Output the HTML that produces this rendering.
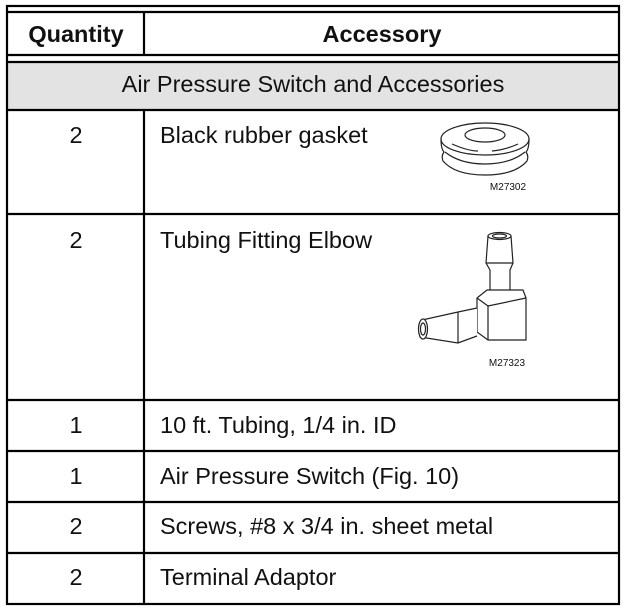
<!DOCTYPE html>
<html><head><style>
html,body{margin:0;padding:0;background:#fff;}
svg{display:block;}
text{font-family:"Liberation Sans",Arial,sans-serif;fill:#111;}
</style></head><body>
<svg width="627" height="616" viewBox="0 0 627 616" xmlns="http://www.w3.org/2000/svg">
<rect x="7" y="63" width="612" height="47" fill="#e3e3e3"/>
<g stroke="#000" stroke-width="2.2" fill="none">
<rect x="7" y="6" width="612" height="598"/>
<line x1="7" y1="12" x2="619" y2="12"/>
<line x1="7" y1="55" x2="619" y2="55"/>
<line x1="7" y1="62" x2="619" y2="62"/>
<line x1="7" y1="110" x2="619" y2="110"/>
<line x1="7" y1="214" x2="619" y2="214"/>
<line x1="7" y1="400" x2="619" y2="400"/>
<line x1="7" y1="451" x2="619" y2="451"/>
<line x1="7" y1="502" x2="619" y2="502"/>
<line x1="7" y1="553" x2="619" y2="553"/>
<line x1="144" y1="12" x2="144" y2="55"/>
<line x1="144" y1="110" x2="144" y2="604"/>
</g>
<text x="76" y="42" font-size="23.5" font-weight="bold" text-anchor="middle">Quantity</text>
<text x="382" y="42" font-size="23.5" font-weight="bold" text-anchor="middle">Accessory</text>
<text x="313" y="92" font-size="23.5" text-anchor="middle">Air Pressure Switch and Accessories</text>
<text x="76" y="143" font-size="23.5" text-anchor="middle">2</text>
<text x="160" y="143" font-size="23.5">Black rubber gasket</text>
<text x="76" y="248" font-size="23.5" text-anchor="middle">2</text>
<text x="160" y="248" font-size="23.5">Tubing Fitting Elbow</text>
<text x="76" y="433" font-size="23.5" text-anchor="middle">1</text>
<text x="160" y="433" font-size="23.5">10 ft. Tubing, 1/4 in. ID</text>
<text x="76" y="484" font-size="23.5" text-anchor="middle">1</text>
<text x="160" y="484" font-size="23.5">Air Pressure Switch (Fig. 10)</text>
<text x="76" y="534" font-size="23.5" text-anchor="middle">2</text>
<text x="160" y="534" font-size="23.5">Screws, #8 x 3/4 in. sheet metal</text>
<text x="76" y="585" font-size="23.5" text-anchor="middle">2</text>
<text x="160" y="585" font-size="23.5">Terminal Adaptor</text>
<!-- gasket -->
<g stroke="#222" stroke-width="1.2" fill="none">
<ellipse cx="485" cy="139" rx="44" ry="16"/>
<ellipse cx="485" cy="135" rx="20" ry="7"/>
<path d="M441 139 Q441 149 444 152 Q441 156 443 161 Q455 175 485 175 Q515 175 527 161 Q529 156 526 152 Q529 149 529 139"/>
<path d="M445 152 Q460 164 485 164 Q510 164 525 152"/>
<path d="M452 144 Q468 151 478 151 M492 151 Q505 150 518 144"/>
</g>
<text x="508" y="190" font-size="10" text-anchor="middle">M27302</text>
<!-- elbow -->
<g stroke="#222" stroke-width="1.2" fill="#fff">
<path d="M488 236 L486 263 L490 270 L490 298 L510 298 L510 270 L513 263 L511 236 Z"/>
<ellipse cx="499.5" cy="236" rx="11.5" ry="3.5"/>
<ellipse cx="499.5" cy="236" rx="7" ry="2"/>
<line x1="486" y1="263" x2="513" y2="263"/>
<path d="M477 298 L487 290 L523 290 L526 298 L526 340 L488 340 L477 332 Z"/>
<line x1="477" y1="298" x2="488" y2="306"/>
<line x1="488" y1="306" x2="526" y2="298"/>
<line x1="488" y1="306" x2="488" y2="340"/>
<path d="M477 308 L458 312 L422 320 L420 337 L458 343 L477 336"/>
<line x1="458" y1="312" x2="458" y2="343"/>
<ellipse cx="423" cy="329" rx="4.5" ry="10"/>
<ellipse cx="423" cy="329" rx="2.5" ry="6"/>
</g>
<text x="507" y="366" font-size="10" text-anchor="middle">M27323</text>
</svg>
</body></html>
